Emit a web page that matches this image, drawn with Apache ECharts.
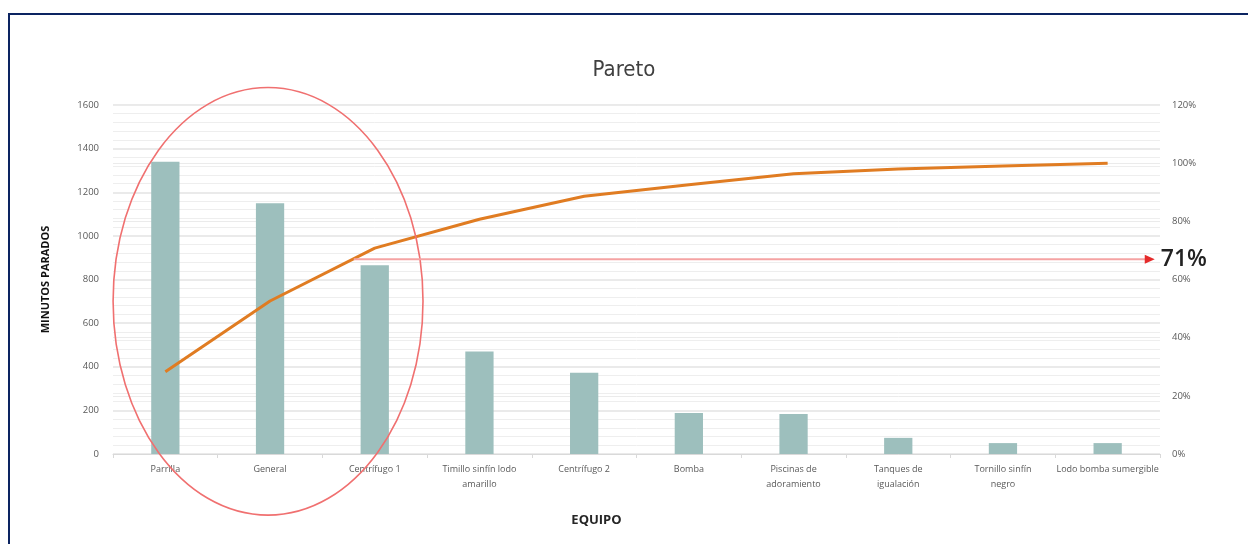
<!DOCTYPE html>
<html><head><meta charset="utf-8">
<script src="https://cdn.jsdelivr.net/npm/echarts@6/dist/echarts.min.js"></script>
<style>
html,body{margin:0;padding:0;background:#fff;}
#frame{position:absolute;left:8px;top:13px;width:1260px;height:560px;border-left:2px solid #0c2461;border-top:2px solid #0c2461;}
#c{position:absolute;left:0;top:0;width:1248px;height:544px;}
</style></head>
<body>
<div id="frame"></div>
<div id="c"></div>
<script>
var categories = ['Parrilla','General','Centrífugo 1','Timillo sinfín lodo\namarillo','Centrífugo 2','Bomba','Piscinas de\nadoramiento','Tanques de\nigualación','Tornillo sinfín\nnegro','Lodo bomba sumergible'];
var minutes = [1340,1150,865,470,372,188,183,74,50,50];
var cumulativePct = [28.3,52.6,70.8,80.7,88.6,92.6,96.4,98.0,99.0,100];
var leftTicks = [0,1600,200];
var rightTicks = [0,120,20];
var thresholdLabel = '71%';
var thresholdLevel = 67;

var font = "'Open Sans', 'DejaVu Sans', sans-serif";
var chart = echarts.init(document.getElementById('c'));
chart.setOption({
  animation:false,
  backgroundColor:'transparent',
  title:{text:'Pareto',left:'center',top:54,textStyle:{fontFamily:"'Liberation Sans Narrow','DejaVu Sans Condensed',sans-serif",fontSize:22,fontWeight:'normal',color:'#404040'}},
  grid:{left:113,right:88,top:105,bottom:90},
  xAxis:{type:'category',data:categories,
    name:'EQUIPO',nameLocation:'middle',nameGap:60,
    nameTextStyle:{fontFamily:font,fontSize:13,fontWeight:'bold',color:'#262626',padding:[0,80,0,0]},
    axisLine:{lineStyle:{color:'#d9d9d9',width:1}},
    axisTick:{show:true,lineStyle:{color:'#d9d9d9'},length:4},
    axisLabel:{interval:0,fontFamily:font,fontSize:9,color:'#595959',lineHeight:15,margin:8}},
  yAxis:[
    {type:'value',min:leftTicks[0],max:leftTicks[1],interval:leftTicks[2],
     name:'MINUTOS PARADOS',nameLocation:'middle',nameGap:62,nameRotate:90,
     nameTextStyle:{fontFamily:font,fontSize:11,fontWeight:'bold',color:'#111'},
     axisLine:{show:false},axisTick:{show:false},
     axisLabel:{formatter:function(v){return String(v);},fontFamily:font,fontSize:9.5,color:'#595959',margin:14},
     splitLine:{lineStyle:{color:'#e3e3e3',width:1.5}},
     minorTick:{show:false,splitNumber:5},
     minorSplitLine:{show:true,lineStyle:{color:'#eeeeee',width:1}}},
    {type:'value',min:rightTicks[0],max:rightTicks[1],interval:rightTicks[2],
     axisLine:{show:false},axisTick:{show:false},
     axisLabel:{formatter:'{value}%',fontFamily:font,fontSize:9.5,color:'#595959',margin:12},
     splitLine:{show:true,lineStyle:{color:'#ebebeb',width:1}}}
  ],
  series:[
    {type:'bar',data:minutes,barWidth:'27%',itemStyle:{color:'#9dbfbd'},yAxisIndex:0},
    {type:'line',data:cumulativePct,yAxisIndex:1,symbol:'none',lineStyle:{color:'#e07c22',width:3}}
  ]
});

function drawAnnotations(){
  var p0 = chart.convertToPixel({xAxisIndex:0,yAxisIndex:0},[categories[0],0]);
  var p1 = chart.convertToPixel({xAxisIndex:0,yAxisIndex:0},[categories[1],0]);
  var catW = p1[0]-p0[0];
  var ce = chart.convertToPixel({xAxisIndex:0,yAxisIndex:0},[categories[1],700]);
  var top = chart.convertToPixel({xAxisIndex:0,yAxisIndex:0},[categories[1],1680]);
  var ry = ce[1]-top[1];
  var rx = catW*1.48;
  var startP = chart.convertToPixel({xAxisIndex:0,yAxisIndex:1},[categories[2],thresholdLevel]);
  var endP = chart.convertToPixel({xAxisIndex:0,yAxisIndex:1},[categories[9],thresholdLevel]);
  var x1 = startP[0]-catW*0.2, x2 = endP[0]+catW*0.45, y = startP[1];
  chart.setOption({graphic:[
    {type:'ellipse',shape:{cx:ce[0]-2,cy:ce[1],rx:rx,ry:ry},style:{fill:'none',stroke:'#f07070',lineWidth:1.6},z:100},
    {type:'line',shape:{x1:x1,y1:y,x2:x2-8,y2:y},style:{stroke:'#f5a3a3',lineWidth:2},z:100},
    {type:'polygon',shape:{points:[[x2,y],[x2-10,y-4.5],[x2-10,y+4.5]]},style:{fill:'#e52b2b'},z:101},
    {type:'text',x:x2+6,y:y,style:{text:thresholdLabel,fontFamily:font,fontSize:23,fontWeight:600,fill:'#222',verticalAlign:'middle',align:'left'},z:101}
  ]});
}
drawAnnotations();
</script>
</body></html>
